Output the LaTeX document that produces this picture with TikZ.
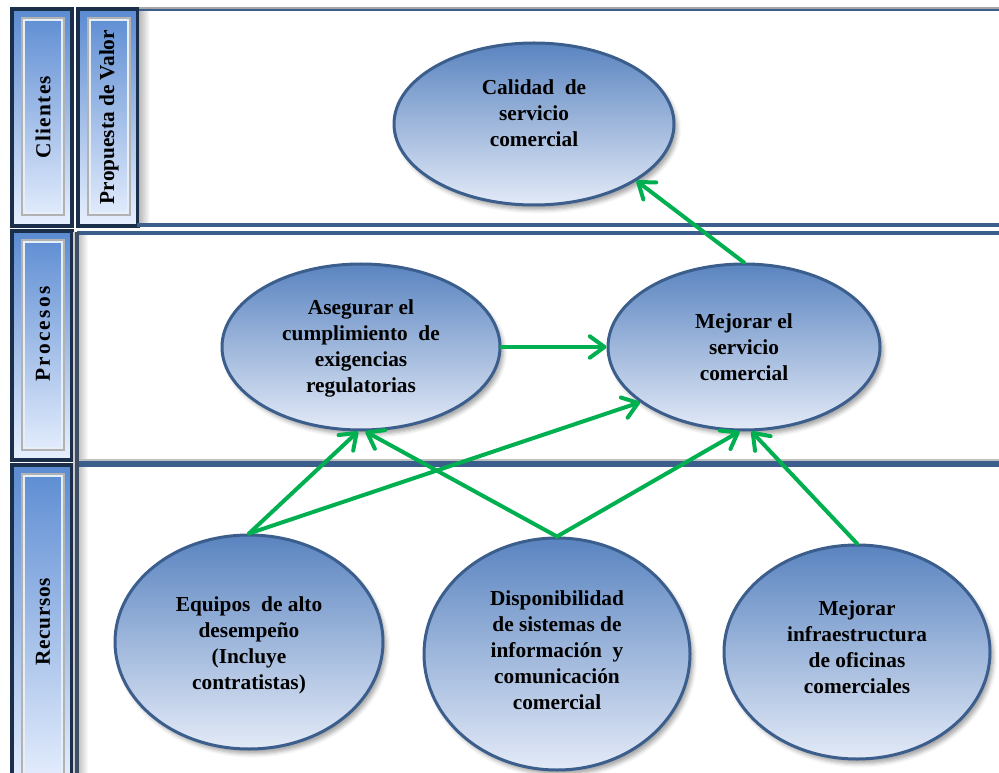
\documentclass[tikz,border=0pt]{standalone}
\usepackage{fontspec}
\setmainfont{Liberation Serif}
\usetikzlibrary{shapes.geometric,arrows.meta,shadows.blur}

\definecolor{frameblue}{HTML}{3B5E8C}
\definecolor{navy}{HTML}{1C2F4A}
\definecolor{ovaltop}{HTML}{5A84C0}
\definecolor{ovalbot}{HTML}{E3EAF7}
\definecolor{lanetop}{HTML}{5B8BD2}
\definecolor{lanebot}{HTML}{E8F0FE}
\definecolor{flowgreen}{HTML}{00B050}

\begin{document}
\begin{tikzpicture}[x=0.75pt,y=-0.75pt,
  lanebox/.style={draw=navy, line width=2.4pt, top color=lanetop, bottom color=lanebot},
  bevel/.style={draw=gray!60, line width=1pt},
  bevellight/.style={draw=white!85!lanetop, line width=0.8pt},
  lanetext/.style={rotate=90, font=\bfseries\fontsize{16}{19}\selectfont, inner sep=0pt},
  oval/.style={ellipse, draw=frameblue, line width=2.25pt, top color=ovaltop,
    bottom color=ovalbot, inner sep=0pt,
    blur shadow={shadow xshift=2.5pt, shadow yshift=-3.5pt, shadow blur radius=3pt, shadow opacity=35}},
  ovaltext/.style={align=center, font=\bfseries\fontsize{16}{19.5}\selectfont, inner sep=0pt},
  rule/.style={draw=frameblue, line width=2.4pt},
  flow/.style={draw=flowgreen, line width=3pt, line cap=round,
    -{Straight Barb[length=11pt,width=16pt,line cap=round,line join=round]}}
]
\useasboundingbox (0,0) rectangle (999,773);

% ---- lane headers on the left ----
\draw[lanebox] (12,9) rectangle (72,226);
\draw[bevel] (22,18) rectangle (64,215);
\draw[bevellight] (24,20) rectangle (62,213);
\draw[lanebox] (78,9) rectangle (138,226);
\draw[bevel] (88,18) rectangle (130,215);
\draw[bevellight] (90,20) rectangle (128,213);
\draw[lanebox] (12,231) rectangle (72,460);
\draw[bevel] (22,240) rectangle (64,450);
\draw[bevellight] (24,242) rectangle (62,448);
\draw[lanebox] (12,465) rectangle (72,790);
\draw[bevel] (22,474) rectangle (64,800);
\draw[bevellight] (24,476) rectangle (62,800);

\node[lanetext] (clientes) at (43,117) {\addfontfeature{LetterSpace=6}Clientes};
\node[lanetext] (propuesta) at (109,117) {Propuesta de Valor};
\node[lanetext] (procesos) at (43,334) {\addfontfeature{LetterSpace=11}Procesos};
\node[lanetext] (recursos) at (43,622) {\addfontfeature{LetterSpace=3}Recursos};

% ---- lane frames ----
\shade[left color=gray!55, right color=white] (139,10) rectangle (150,224);
\shade[left color=gray!45, right color=white] (79,236) rectangle (88,773);
\draw[draw=gray!70, line width=1pt] (139,8) -- (999,8);
\draw[rule, line width=1.6pt] (139,10) -- (999,10);
\draw[rule] (137,225) -- (999,225);
\draw[rule] (77,233) -- (999,233);
\draw[draw=gray!50, line width=1pt] (77,460) -- (999,460);
\draw[rule, line width=5pt] (77,464) -- (999,464);
\draw[draw=gray!40, line width=1pt] (74,232) -- (74,773);
\draw[draw=navy!85, line width=2.4pt] (77,232) -- (77,773);

% ---- objectives ----
\node[oval, minimum width=210pt, minimum height=121.5pt] (cal) at (534,124) {};
\node[ovaltext] (cal-t) at (534,113) {Calidad \ de\\servicio\\comercial};

\node[oval, minimum width=208.5pt, minimum height=124.5pt] (ase) at (361,347) {};
\node[ovaltext] (ase-t) at (361,348) {Asegurar el\\cumplimiento \ de\\exigencias\\regulatorias};

\node[oval, minimum width=204pt, minimum height=124.5pt] (mej) at (744,347) {};
\node[ovaltext] (mej-t) at (744,347) {Mejorar el\\servicio\\comercial};

\node[oval, minimum width=201pt, minimum height=160.5pt] (equ) at (249,642) {};
\node[ovaltext] (equ-t) at (249,645) {Equipos \ de alto\\desempeño\\(Incluye\\contratistas)};

\node[oval, minimum width=199.5pt, minimum height=174pt] (dis) at (557,654) {};
\node[ovaltext] (dis-t) at (557,650) {Disponibilidad\\de sistemas de\\información \ y\\comunicación\\comercial};

\node[oval, minimum width=199.5pt, minimum height=160.5pt] (inf) at (857,652) {};
\node[ovaltext] (inf-t) at (857,647) {Mejorar\\infraestructura\\de oficinas\\comerciales};

% ---- cause and effect links ----
\draw[flow] (mej.north) -- (cal.-29);
\draw[flow] (ase.east) -- (mej.west);
\draw[flow] (equ.north) -- (ase.-92);
\draw[flow] (equ.north) -- (mej.-152);
\draw[flow] (dis.north) -- (ase.-87);
\draw[flow] (dis.north) -- (mej.-93);
\draw[flow] (inf.north) -- (mej.-85);
\end{tikzpicture}
\end{document}
